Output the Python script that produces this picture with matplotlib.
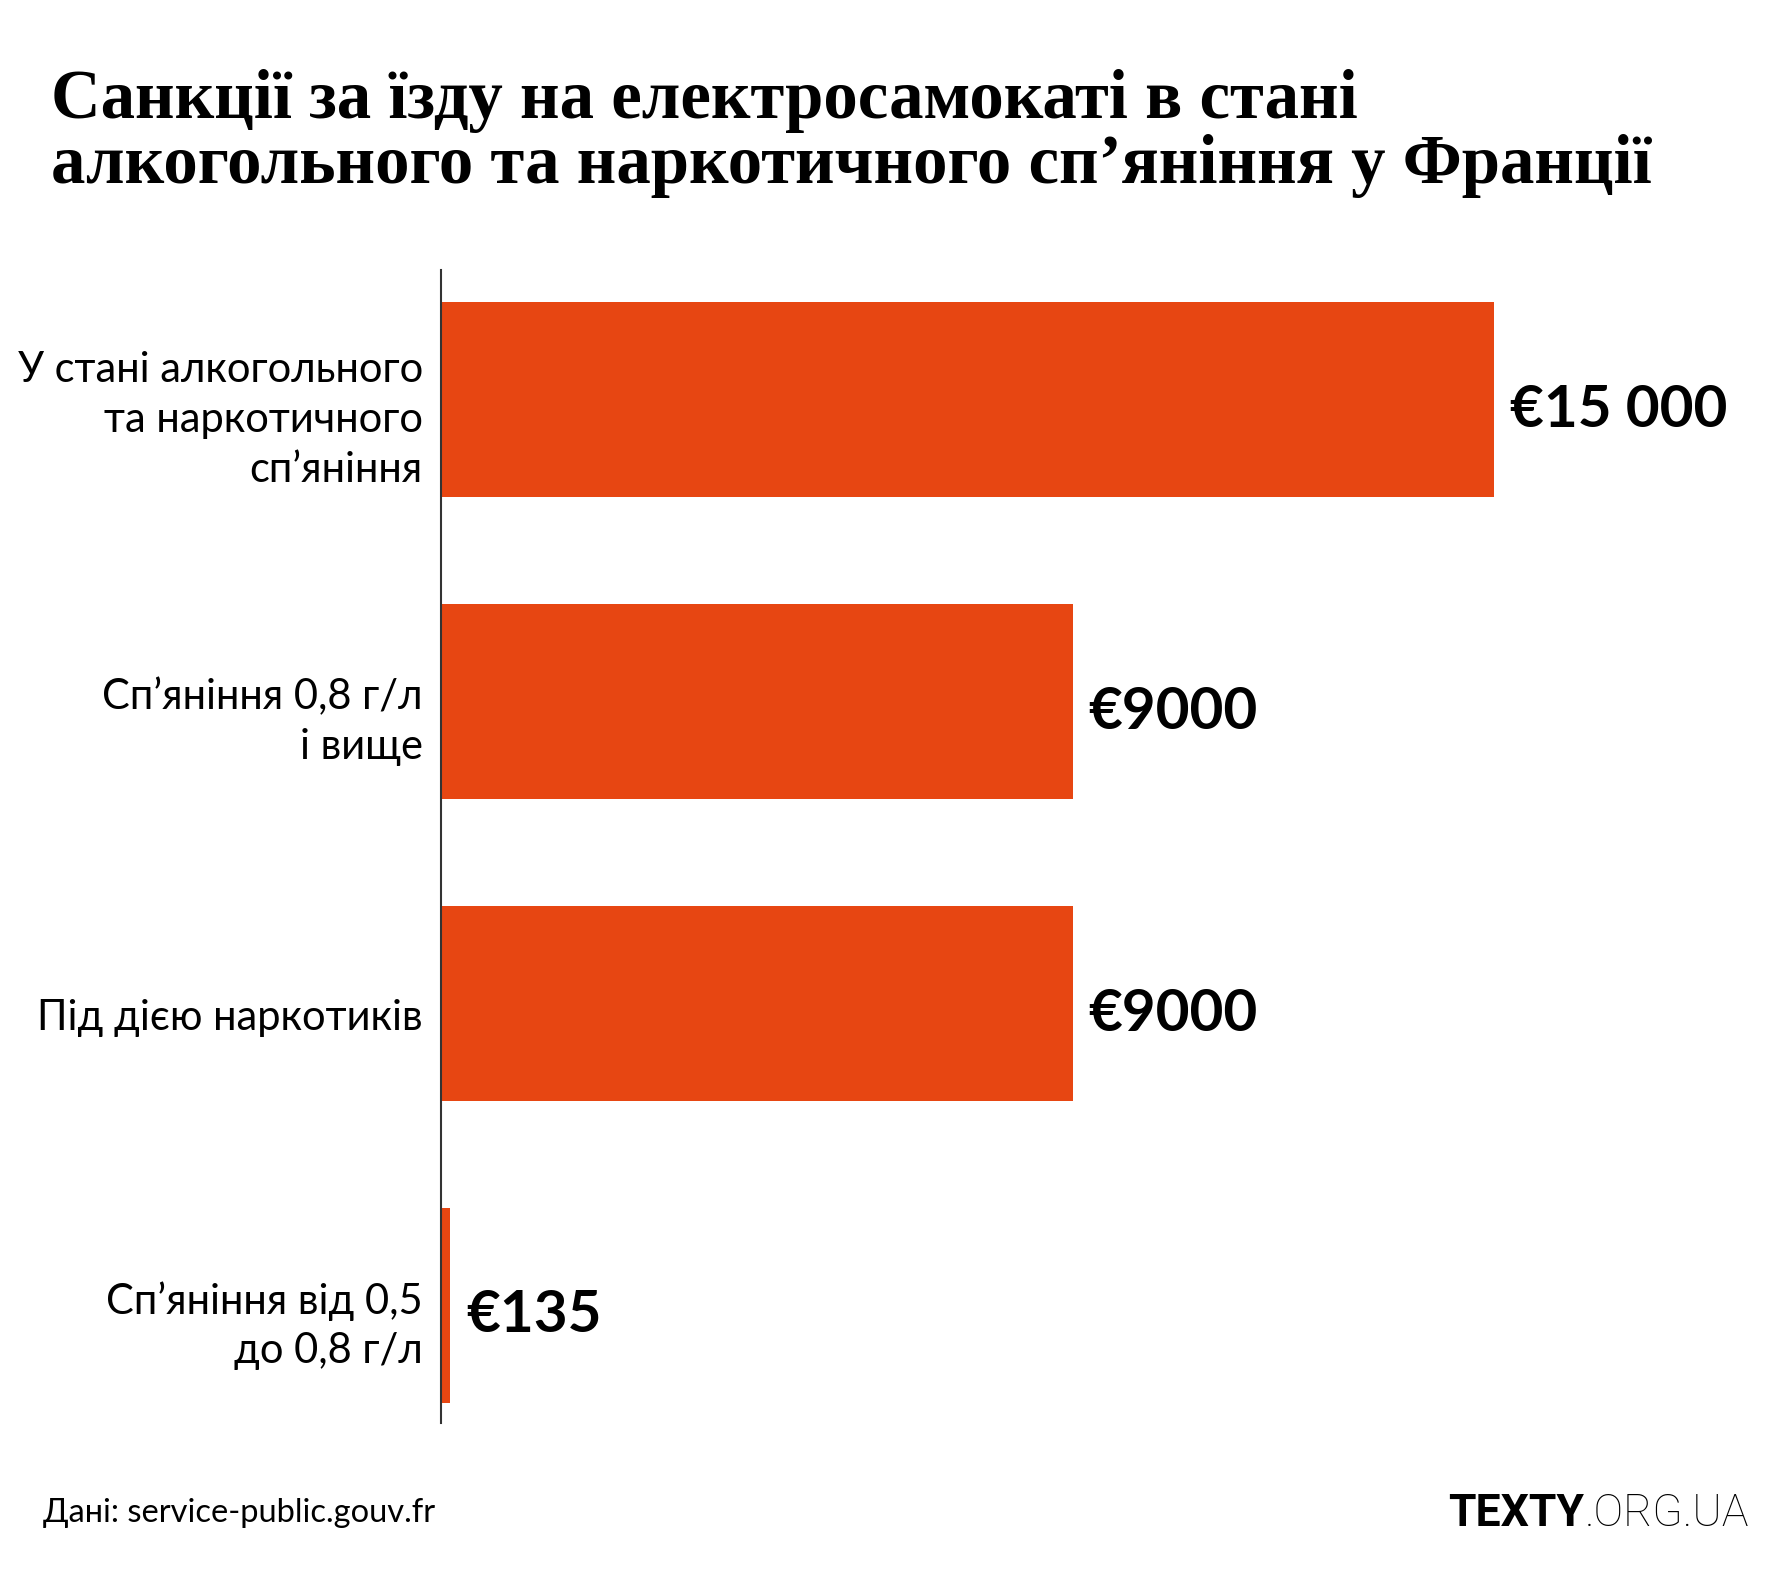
import matplotlib
matplotlib.use("Agg")
import matplotlib.pyplot as plt
from matplotlib.transforms import ScaledTranslation

# data
categories = [
    "У стані алкогольного\nта наркотичного\nсп\u2019яніння",
    "Сп\u2019яніння 0,8 г/л\nі вище",
    "Під дією наркотиків",
    "Сп\u2019яніння від 0,5\nдо 0,8 г/л",
]
fines = [15000, 9000, 9000, 135]
value_labels = ["€15 000", "€9000", "€9000", "€135"]

title_lines = ["Санкції за їзду на електросамокаті в стані",
               "алкогольного та наркотичного сп\u2019яніння у Франції"]
source = "Дані: service-public.gouv.fr"

bar_color = "#E74612"
W, H = 1792, 1579
sans = ["Lato", "DejaVu Sans"]

fig = plt.figure(figsize=(W / 100, H / 100), dpi=100)
fig.patch.set_facecolor("white")

ax = fig.add_axes([441 / W, 1 - 1423 / H, 1264 / W, (1423 - 270) / H])
y = list(range(len(fines)))
ax.barh(y, fines, height=0.645, color=bar_color, zorder=2)

ax.set_xlim(0, 18000)
ax.set_ylim(3.39, -0.43)

for s in ["top", "right", "bottom"]:
    ax.spines[s].set_visible(False)
ax.spines["left"].set_color("#333333")
ax.spines["left"].set_linewidth(1.5)
ax.spines["left"].set_zorder(3)
ax.set_xticks([])
ax.set_yticks(y)
ax.set_yticklabels(categories, fontsize=30, family=sans,
                   linespacing=1.38, ha="right", multialignment="right")
ax.tick_params(axis="y", length=0, pad=13)

# labels in the original sit a little below the bar centre
shift = ScaledTranslation(0, -0.11, fig.dpi_scale_trans)
for lbl in ax.get_yticklabels():
    lbl.set_transform(lbl.get_transform() + shift)

for yi, v, lab in zip(y, fines, value_labels):
    ax.annotate(lab, (v, yi), xytext=(11, -4), textcoords="offset points",
                va="center_baseline", ha="left", fontsize=42, fontweight="bold",
                family=sans, color="black")

fig.text(51 / W, 1 - 118 / H, title_lines[0], ha="left", va="baseline",
         fontsize=49.5, fontweight="bold", family="Liberation Serif")
fig.text(51 / W, 1 - 183 / H, title_lines[1], ha="left", va="baseline",
         fontsize=49.5, fontweight="bold", family="Liberation Serif")

fig.text(43 / W, 1 - 1522 / H, source, ha="left", va="baseline",
         fontsize=23.5, family=sans)

t1 = fig.text(1749 / W, 1 - 1526 / H, ".ORG.UA", ha="right", va="baseline",
              fontsize=32, family="Roboto", fontweight="light")
fig.canvas.draw()
bb = t1.get_window_extent()
fig.text(bb.x0 / W, 1 - 1526 / H, "TEXTY", ha="right", va="baseline",
         fontsize=32, family="Roboto", fontweight="bold")

fig.savefig("out.png", dpi=100, facecolor="white")
